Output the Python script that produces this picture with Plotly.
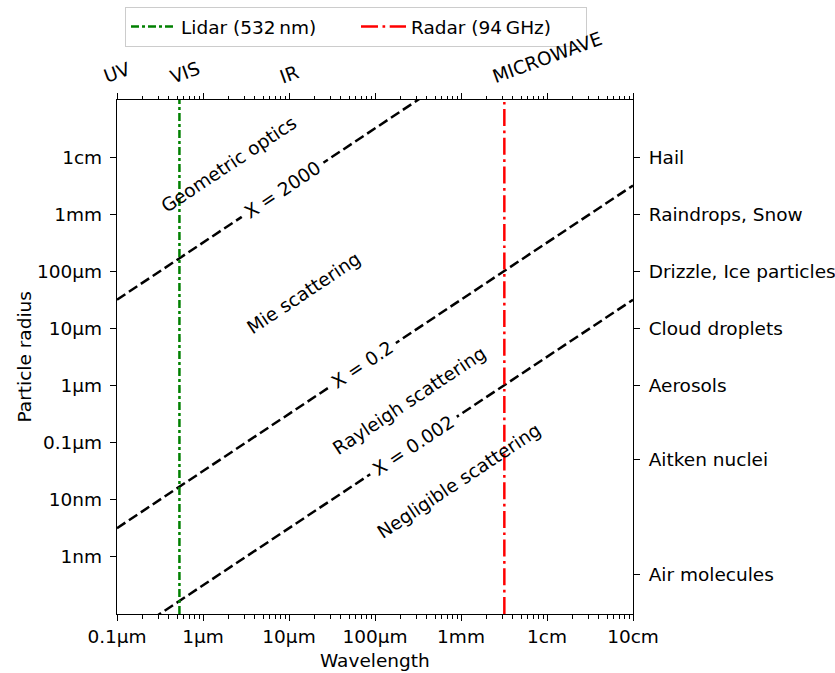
import numpy as np
import plotly.graph_objects as go

# ---------------- data ----------------
wl_range = [1e-7, 1e-1]          # wavelength axis (m)
r_range = [1e-10, 1e-1]          # particle radius axis (m)

size_params = [2000, 0.2, 0.002]                 # size parameter X = 2*pi*r/lambda
size_label_wl = [8.5e-6, 7.2e-5, 2.8e-4]         # where the X labels sit on each line

lidar_wl = 532e-9
radar_freq = 94e9
light_speed = 3e8

x_tick_vals = [1e-7, 1e-6, 1e-5, 1e-4, 1e-3, 1e-2, 1e-1]
x_tick_text = ["0.1µm", "1µm", "10µm", "100µm", "1mm", "1cm", "10cm"]
y_tick_vals = [1e-9, 1e-8, 1e-7, 1e-6, 1e-5, 1e-4, 1e-3, 1e-2]
y_tick_text = ["1nm", "10nm", "0.1µm", "1µm", "10µm", "100µm", "1mm", "1cm"]

particle_radii = [1e-2, 1e-3, 1e-4, 1e-5, 1e-6, 5e-8, 5e-10]
particle_names = ["Hail", "Raindrops, Snow", "Drizzle, Ice particles", "Cloud droplets",
                  "Aerosols", "Aitken nuclei", "Air molecules"]

band_wl = [1e-7, 6.2e-7, 1e-5, 1e-2]
band_names = ["UV", "VIS", "IR", "MICROWAVE"]

regime_names = ["Geometric optics", "Mie scattering", "Rayleigh scattering", "Negligible scattering"]
regime_wl = [1.98e-6, 1.51e-5, 2.52e-4, 9.6e-4]
regime_r = [7.4e-3, 4.2e-5, 5.4e-7, 2.17e-8]

# ---------------- figure ----------------
FONT = "DejaVu Sans"
FS = 18.5
W, H = 835, 673
L, R, T, B = 117, 202, 100, 59
pw, ph = W - L - R, H - T - B
# on-screen slope angle of the size-parameter lines
ang = np.degrees(np.arctan((ph / 9.0) / (pw / 6.0)))

fig = go.Figure()

wl_line = np.array(wl_range)
for X in size_params:
    fig.add_trace(go.Scatter(x=wl_line, y=X * wl_line / (2 * np.pi), mode="lines",
                             line=dict(color="black", width=2.5, dash="10px,4.3px"),
                             showlegend=False, hoverinfo="skip"))

fig.add_trace(go.Scatter(x=[lidar_wl, lidar_wl], y=r_range, mode="lines",
                         name="Lidar (532\u2009nm)",
                         line=dict(color="green", width=2.5, dash="8px,3px,3px,3px")))
radar_wl = light_speed / radar_freq
fig.add_trace(go.Scatter(x=[radar_wl, radar_wl], y=r_range, mode="lines",
                         name="Radar (94\u2009GHz)",
                         line=dict(color="red", width=2.5, dash="17px,4.5px,2.7px,4.5px")))

# invisible trace to activate secondary axes
fig.add_trace(go.Scatter(x=wl_range, y=r_range, xaxis="x2", yaxis="y2", mode="lines",
                         line=dict(width=0), opacity=0, showlegend=False, hoverinfo="skip"))

minor_x = [m * 10.0 ** e for e in range(-7, -1) for m in range(2, 10)]

axis_common = dict(type="log", showgrid=False, zeroline=False, ticks="outside",
                   tickwidth=1.4, tickcolor="black", linecolor="black", linewidth=1.4,
                   automargin=False,
                   tickfont=dict(family=FONT, size=FS, color="black"))

fig.update_layout(
    width=W, height=H,
    margin=dict(l=L, r=R, t=T, b=B, autoexpand=False),
    paper_bgcolor="white", plot_bgcolor="white",
    font=dict(family=FONT, size=FS, color="black"),
    xaxis=dict(**axis_common, range=[np.log10(wl_range[0]), np.log10(wl_range[1])],
               tickmode="array", tickvals=x_tick_vals, ticktext=x_tick_text, ticklen=6,
               showline=True, mirror=True,
               minor=dict(tickmode="array", tickvals=minor_x, ticks="outside", ticklen=3.5,
                          tickwidth=1.1, tickcolor="black", showgrid=False)),
    xaxis2=dict(**axis_common, range=[np.log10(wl_range[0]), np.log10(wl_range[1])],
                overlaying="x", side="top", anchor="y", showline=False,
                tickmode="array", tickvals=x_tick_vals, showticklabels=False, ticklen=6,
                minor=dict(tickmode="array", tickvals=minor_x, ticks="outside", ticklen=3.5,
                           tickwidth=1.1, tickcolor="black", showgrid=False)),
    yaxis=dict(**axis_common, range=[np.log10(r_range[0]), np.log10(r_range[1])],
               tickmode="array", tickvals=y_tick_vals, ticktext=y_tick_text, ticklen=6,
               ticklabelstandoff=4, showline=True, mirror=True),
    yaxis2=dict(**axis_common, range=[np.log10(r_range[0]), np.log10(r_range[1])],
                overlaying="y", side="right", anchor="x", showline=False,
                tickmode="array", tickvals=particle_radii, ticktext=particle_names, ticklen=6,
                ticklabelstandoff=5),
    legend=dict(orientation="h", x=(125 - L) / pw, xanchor="left",
                y=1 + (T - 7) / ph, yanchor="top",
                bordercolor="#cccccc", borderwidth=1, bgcolor="white",
                itemwidth=45, entrywidth=170, entrywidthmode="pixels",
                font=dict(family=FONT, size=FS, color="black")),
    showlegend=True,
)

annotations = []
# size-parameter labels (white background breaks the line)
for X, wl in zip(size_params, size_label_wl):
    r = X * wl / (2 * np.pi)
    annotations.append(dict(x=np.log10(wl), y=np.log10(r), xref="x", yref="y",
                            text=f"X = {X:g}", showarrow=False, textangle=-ang,
                            bgcolor="white", borderpad=5,
                            font=dict(family=FONT, size=FS, color="black")))
# regime labels
for name, wl, r in zip(regime_names, regime_wl, regime_r):
    annotations.append(dict(x=np.log10(wl), y=np.log10(r), xref="x", yref="y",
                            text=name, showarrow=False, textangle=-ang,
                            font=dict(family=FONT, size=FS, color="black")))
# spectral band labels on top axis
for name, wl in zip(band_names, band_wl):
    annotations.append(dict(x=np.log10(wl), y=1, xref="x", yref="paper",
                            yanchor="bottom", xanchor="center", yshift=10,
                            text=name, showarrow=False, textangle=-20,
                            font=dict(family=FONT, size=FS, color="black")))
# axis titles
annotations.append(dict(x=0.5, y=(0 - 46) / ph, xref="paper", yref="paper",
                        text="Wavelength", showarrow=False, yanchor="middle",
                        font=dict(family=FONT, size=FS, color="black")))
annotations.append(dict(x=(23.5 - L) / pw, y=0.5, xref="paper", yref="paper",
                        text="Particle radius", showarrow=False, textangle=-90,
                        xanchor="center", yanchor="middle",
                        font=dict(family=FONT, size=FS, color="black")))
fig.update_layout(annotations=annotations)

fig.write_html("out.html")
